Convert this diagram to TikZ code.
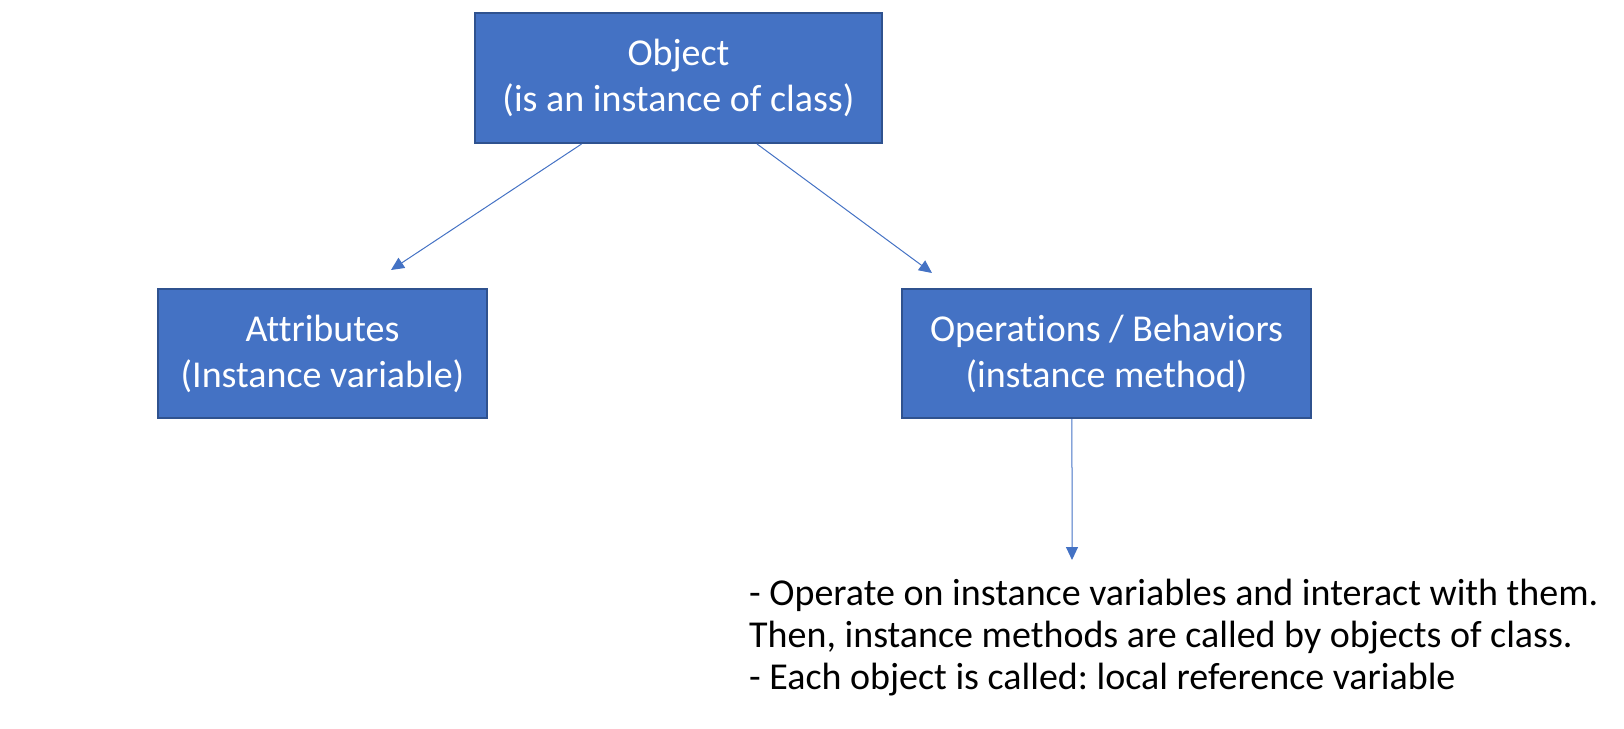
\documentclass[tikz,border=0pt]{standalone}
\usepackage{fontspec}
\setmainfont[Ligatures=NoCommon]{Carlito}
\frenchspacing
\usetikzlibrary{calc,arrows.meta}
\definecolor{boxfill}{HTML}{4472C4}
\definecolor{boxline}{HTML}{2F528F}
\tikzset{
  box/.style={draw=boxline, line width=2pt, fill=boxfill, text=white, align=center,
    inner sep=0pt, font=\fontsize{38}{46}\selectfont},
  conn/.style={draw=boxfill, line width=1pt, -{Triangle[length=13pt,width=12pt]}},
}
\begin{document}
\begin{tikzpicture}[x=1pt,y=-1pt]
\useasboundingbox (0,0) rectangle (1624,728);
\node[box, minimum width=407pt, minimum height=130pt] (obj) at (678.5,78) {Object\\(is an instance of class)};
\node[box, minimum width=329pt, minimum height=129pt] (attr) at (322.5,353.5) {Attributes\\(Instance variable)};
\node[box, minimum width=409pt, minimum height=129pt] (ops) at (1106.5,353.5) {Operations / Behaviors\\(instance method)};
\coordinate (aend) at (391,270);
\coordinate (oend) at (932,273);
\coordinate (dend) at (1072,560);
\node[anchor=north west, align=left, inner sep=0pt, font=\fontsize{38}{42}\selectfont] (note) at (749,579)
  {- Operate on instance variables and interact with them.\\Then, instance methods are called by objects of class.\\- Each object is called: local reference variable};
\draw[conn] ($(obj.south west)!0.263!(obj.south east)$) -- (aend);
\draw[conn] ($(obj.south west)!0.692!(obj.south east)$) -- (oend);
\draw[conn] ($(ops.south west)!0.416!(ops.south east)$) -- (dend);
\end{tikzpicture}
\end{document}
